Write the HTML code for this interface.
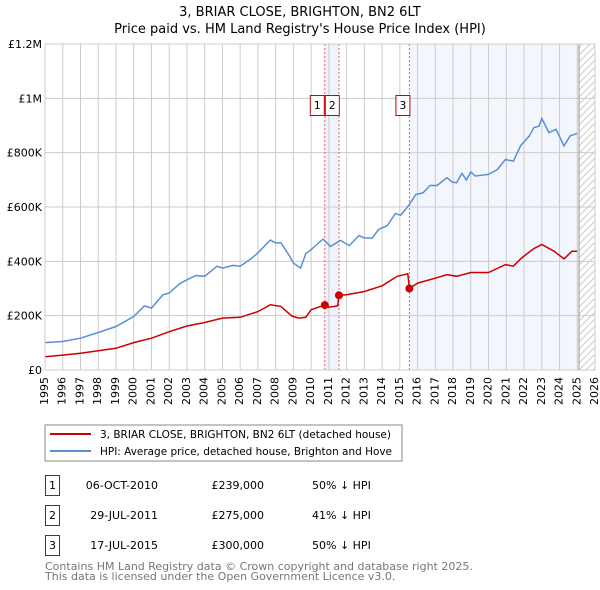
<!DOCTYPE html>
<html><head><meta charset="utf-8"><style>
body{margin:0;background:#fff;font-family:"DejaVu Sans","Liberation Sans",sans-serif;}
svg text{font-family:"DejaVu Sans","Liberation Sans",sans-serif;}
#wrap{position:relative;width:600px;height:590px;overflow:hidden;}
#c{position:absolute;left:0;top:0;}
.xt{position:absolute;font-size:11px;line-height:12px;width:12px;height:40px;text-align:end;white-space:nowrap;writing-mode:vertical-rl;transform:rotate(180deg);}
@supports (writing-mode: sideways-lr){.xt{writing-mode:sideways-lr;transform:none;}}
</style></head><body>
<div id="wrap">
<svg id="c" width="600" height="590" viewBox="0 0 600 590" xmlns="http://www.w3.org/2000/svg">
<defs><clipPath id="hc"><rect id="hcr" x="0" y="44" width="0" height="326"/></clipPath></defs>
<text x="300" y="16" text-anchor="middle" font-size="13">3, BRIAR CLOSE, BRIGHTON, BN2 6LT</text>
<text x="300" y="33" text-anchor="middle" font-size="13">Price paid vs. HM Land Registry's House Price Index (HPI)</text>
<g id="plot"></g>
<rect x="45" y="425" width="357" height="36" fill="#fff" stroke="#888"/>
<line x1="50" y1="434" x2="91" y2="434" stroke="#cc0000" stroke-width="2"/>
<text x="100" y="438" font-size="10.5" textLength="291" lengthAdjust="spacingAndGlyphs">3, BRIAR CLOSE, BRIGHTON, BN2 6LT (detached house)</text>
<line x1="50" y1="451" x2="91" y2="451" stroke="#5b8fd4" stroke-width="2"/>
<text x="100" y="455" font-size="10.5" textLength="292" lengthAdjust="spacingAndGlyphs">HPI: Average price, detached house, Brighton and Hove</text>
<g font-size="11">
<rect x="45.5" y="475.5" width="14" height="20" fill="none" stroke="#cc0000"/><text x="52.5" y="489" text-anchor="middle">1</text>
<text x="158" y="489" text-anchor="end">06-OCT-2010</text><text x="264" y="489" text-anchor="end">£239,000</text><text x="312" y="489">50% ↓ HPI</text>
<rect x="45.5" y="505.5" width="14" height="20" fill="none" stroke="#cc0000"/><text x="52.5" y="519" text-anchor="middle">2</text>
<text x="158" y="519" text-anchor="end">29-JUL-2011</text><text x="264" y="519" text-anchor="end">£275,000</text><text x="312" y="519">41% ↓ HPI</text>
<rect x="45.5" y="535.5" width="14" height="20" fill="none" stroke="#cc0000"/><text x="52.5" y="549" text-anchor="middle">3</text>
<text x="158" y="549" text-anchor="end">17-JUL-2015</text><text x="264" y="549" text-anchor="end">£300,000</text><text x="312" y="549">50% ↓ HPI</text>
</g>
<text x="45" y="570" font-size="11" fill="#777">Contains HM Land Registry data © Crown copyright and database right 2025.</text>
<text x="45" y="580" font-size="11" fill="#777">This data is licensed under the Open Government Licence v3.0.</text>
</svg>
</div>
<script>
const hpiYears=[1995,1996,1997,1998,1999,2000,2000.6,2001,2001.65,2002,2002.6,2003,2003.5,2004,2004.7,2005,2005.6,2006,2006.6,2007,2007.7,2008,2008.3,2008.8,2009,2009.4,2009.7,2010,2010.67,2011.1,2011.65,2012.15,2012.7,2013,2013.45,2013.8,2014.3,2014.75,2015.05,2015.5,2015.9,2016.3,2016.7,2017.1,2017.65,2017.95,2018.2,2018.5,2018.75,2019,2019.25,2020,2020.5,2020.95,2021.4,2021.8,2022.3,2022.55,2022.85,2023,2023.4,2023.8,2024.25,2024.6,2025];
const hpiValues=[101,105,117,138,160,197,236,228,277,283,318,332,348,345,382,375,385,382,409,431,478,468,468,418,394,375,428,443,482,455,477,458,495,486,486,517,532,576,570,606,646,652,679,679,708,692,689,724,699,729,714,720,738,775,769,825,862,892,898,926,874,886,825,862,871];
const redYears=[1995,1996,1997,1998,1999,2000,2001,2002,2003,2004,2005,2006,2007,2007.7,2008.3,2008.9,2009.3,2009.7,2010,2010.77,2011.0,2011.5,2011.57,2012,2013,2014,2014.85,2015.45,2015.54,2016,2017,2017.65,2018.2,2019,2020,2020.95,2021.4,2021.85,2022.55,2023,2023.7,2024.25,2024.7,2025];
const redValues=[49,55,62,71,80,101,117,141,162,175,191,194,215,240,234,199,191,194,222,239,231,236,275,277,289,310,345,354,300,320,338,351,345,359,359,388,382,412,447,462,437,409,437,437];
const sales=[[2010.77,239],[2011.57,275],[2015.54,300]];
const yTicks=[0,200,400,600,800,1000,1200];
const yLabels=["£0","£200K","£400K","£600K","£800K","£1M","£1.2M"];
const NS="http://www.w3.org/2000/svg";
const L=45,R=595,T=44,B=370,Y0=1995,Y1=2026,VMAX=1200;
const sx=y=>L+(y-Y0)*(R-L)/(Y1-Y0);
const sy=v=>B-v*(B-T)/VMAX;
const g=document.getElementById('plot');
const wrap=document.getElementById('wrap');
function mk(t,a,p){const e=document.createElementNS(NS,t);for(const k in a)e.setAttribute(k,a[k]);(p||g).appendChild(e);return e;}
let e=mk('rect',{x:sx(2010.77),y:T,width:sx(2011.57)-sx(2010.77),height:B-T,fill:'#eef3fc'});


e=mk('rect',{x:sx(2015.54),y:T,width:sx(2025.1)-sx(2015.54),height:B-T,fill:'#f3f6fd'});


const hx=sx(2025.1);
const hcr=document.getElementById('hcr');hcr.setAttribute('x',hx);hcr.setAttribute('width',R-hx);
const hg=mk('g',{'clip-path':'url(#hc)'});


for(let k=-40;k<B-T+40;k+=7){mk('line',{x1:hx,y1:T+k+(R-hx),x2:R,y2:T+k,stroke:'#ccc','stroke-width':1},hg);}
for(let y=Y0;y<=Y1;y++){
 e=mk('line',{x1:sx(y),x2:sx(y),y1:T,y2:B,stroke:'#ccc','stroke-width':1});
 
 
 const d=document.createElement('div');
 d.className='xt';
 d.textContent=y;
 d.style.left=(sx(y)-6)+'px';
 d.style.top=(B+7)+'px';
 
 
 wrap.appendChild(d);
}
yTicks.forEach((v,i)=>{
 e=mk('line',{x1:L,x2:R,y1:sy(v),y2:sy(v),stroke:'#ccc','stroke-width':1});
 
 
 e=mk('text',{x:L-3,y:sy(v)+4,'font-size':11,'text-anchor':'end'});
 e.textContent=yLabels[i];
 
 
});
e=mk('line',{x1:hx,x2:hx,y1:T,y2:B,stroke:'#999','stroke-width':1});


sales.forEach((s,i)=>{
 e=mk('line',{x1:sx(s[0]),x2:sx(s[0]),y1:T,y2:B,stroke:'#f06060','stroke-width':1,'stroke-dasharray':'2,2'});
 
 
});
const pts=(xs,vs)=>xs.map((x,i)=>sx(x).toFixed(1)+','+sy(vs[i]).toFixed(1)).join(' ');
e=mk('polyline',{points:pts(hpiYears,hpiValues),fill:'none',stroke:'#5b8fd4','stroke-width':1.5});


e=mk('polyline',{points:pts(redYears,redValues),fill:'none',stroke:'#cc0000','stroke-width':1.5});


sales.forEach((s,i)=>{
 e=mk('circle',{cx:sx(s[0]),cy:sy(s[1]),r:4,fill:'#cc0000'});
 
 
});
const boxes=[[sx(2010.77)-15,1],[sx(2010.77),2],[sx(2015.54)-14,3]];
boxes.forEach(b=>{
 e=mk('rect',{x:b[0]+0.5,y:95.5,width:14,height:20,fill:'#fff',stroke:'#cc0000'});
 
 
 e=mk('text',{x:b[0]+7.5,y:109,'font-size':11,'text-anchor':'middle'});
 e.textContent=b[1];
 
 
});
e=mk('rect',{x:L,y:T,width:R-L,height:B-T,fill:'none',stroke:'#ccc'});


</script>
</body></html>
